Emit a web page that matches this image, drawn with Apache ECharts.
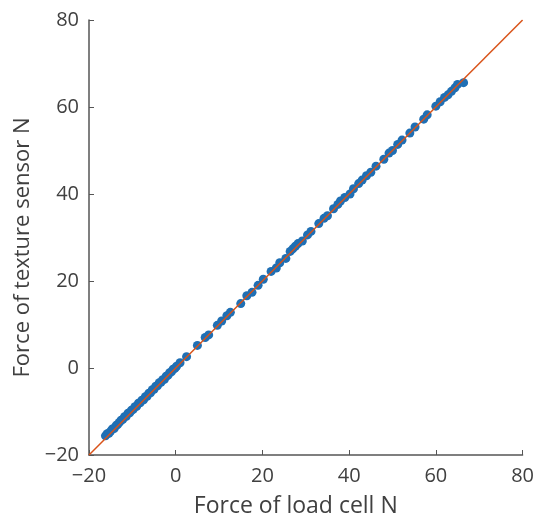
<!DOCTYPE html>
<html>
<head>
<meta charset="utf-8">
<script src="https://cdn.jsdelivr.net/npm/echarts@6/dist/echarts.min.js"></script>
<style>
html, body { margin: 0; padding: 0; background: #fff; }
#chart { width: 537px; height: 523px; }
</style>
</head>
<body>
<div id="chart"></div>
<script>
// load cell force (x) and texture sensor force (y), N
var loadCell = [
  -16.2, -15.8, -15.4, -15.0, -14.6, -14.2, -13.8, -13.4, -13.0, -12.6,
  -12.2, -11.8, -11.4, -11.0, -10.6, -10.2, -9.8, -9.4, -9.0, -8.6,
  -8.2, -7.8, -7.4, -7.0, -6.6, -6.2, -5.8, -5.4, -5.0, -4.6,
  -4.2, -3.8, -3.4, -3.0, -2.6, -2.2, -1.8, -1.4, -1.0, -0.6,
  -0.2, 0.2, 1.0, 2.5, 5.0, 6.8, 7.6, 9.6, 10.6, 11.8,
  12.6, 15.0, 16.4, 17.6, 19.0, 20.2, 22.0, 23.2, 24.0, 25.4,
  26.4, 27.0, 27.6, 28.2, 29.2, 30.4, 31.2, 33.0, 34.2, 35.0,
  36.4, 37.4, 38.0, 39.0, 40.2, 41.0, 42.2, 43.0, 44.0, 45.0,
  46.2, 48.0, 49.2, 50.0, 51.2, 52.2, 54.0, 55.2, 57.2, 58.0,
  60.0, 61.0, 62.0, 62.8, 63.6, 64.4, 65.0, 66.4
];
var textureSensor = [
  -15.6, -15.1, -15.0, -14.5, -14.0, -13.9, -13.3, -13.0, -12.5, -12.0,
  -11.8, -11.2, -11.1, -10.4, -10.3, -9.7, -9.5, -8.9, -8.8, -8.1,
  -8.0, -7.4, -7.3, -6.6, -6.5, -5.8, -5.7, -5.0, -4.9, -4.2,
  -4.1, -3.4, -3.3, -2.7, -2.6, -1.9, -1.7, -1.1, -0.9, -0.3,
  -0.1, 0.4, 1.2, 2.6, 5.2, 7.0, 7.6, 9.8, 10.8, 12.0,
  12.8, 14.8, 16.6, 17.4, 19.0, 20.4, 22.2, 23.0, 24.2, 25.2,
  26.8, 27.4, 28.0, 28.6, 29.2, 30.6, 31.4, 33.2, 34.4, 35.0,
  36.6, 37.6, 38.4, 39.2, 40.0, 41.2, 42.4, 43.2, 44.2, 45.0,
  46.4, 48.0, 49.4, 50.0, 51.4, 52.4, 54.0, 55.4, 57.2, 58.2,
  60.2, 61.2, 62.2, 62.8, 63.6, 64.4, 65.2, 65.6
];
var fitLine = [[-20, -20], [80, 80]];
var ticks = { min: -20, max: 80, step: 20 };

var points = loadCell.map(function (x, i) { return [x, textureSensor[i]]; });

// MATLAB style minus sign
function fmt(v) { return v < 0 ? '\u2212' + Math.abs(v) : String(v); }

var axisColor = '#555555';
var textColor = '#404040';
var font = 'Open Sans';

var myChart = echarts.init(document.getElementById('chart'));
myChart.setOption({
  animation: false,
  grid: { left: 89, top: 20, right: 13, bottom: 67 },
  xAxis: {
    type: 'value', min: ticks.min, max: ticks.max, interval: ticks.step,
    name: 'Force of load cell N', nameLocation: 'middle', nameGap: 40,
    nameTextStyle: { fontSize: 23, color: textColor, fontFamily: font, padding: [0, 20, 0, 0] },
    axisLine: { onZero: false, lineStyle: { color: axisColor, width: 1.5 } },
    axisTick: { inside: true, length: 5, lineStyle: { color: axisColor } },
    axisLabel: { fontSize: 20, color: textColor, fontFamily: font, margin: 11, formatter: fmt },
    splitLine: { show: false }
  },
  yAxis: {
    type: 'value', min: ticks.min, max: ticks.max, interval: ticks.step,
    name: 'Force of texture sensor N', nameLocation: 'middle', nameGap: 50,
    nameTextStyle: { fontSize: 22, color: textColor, fontFamily: font, padding: [0, 20, 0, 0] },
    axisLine: { show: true, onZero: false, lineStyle: { color: axisColor, width: 1.5 } },
    axisTick: { show: true, inside: true, length: 5, lineStyle: { color: axisColor } },
    axisLabel: { fontSize: 20, color: textColor, fontFamily: font, margin: 10, formatter: fmt },
    splitLine: { show: false }
  },
  series: [
    {
      type: 'scatter', data: points, symbolSize: 9,
      itemStyle: { color: '#1f6fb4', opacity: 1 }
    },
    {
      type: 'line', data: fitLine, showSymbol: false, symbol: 'none',
      lineStyle: { color: '#D95319', width: 1.5 }, z: 3
    }
  ]
});
</script>
</body>
</html>
